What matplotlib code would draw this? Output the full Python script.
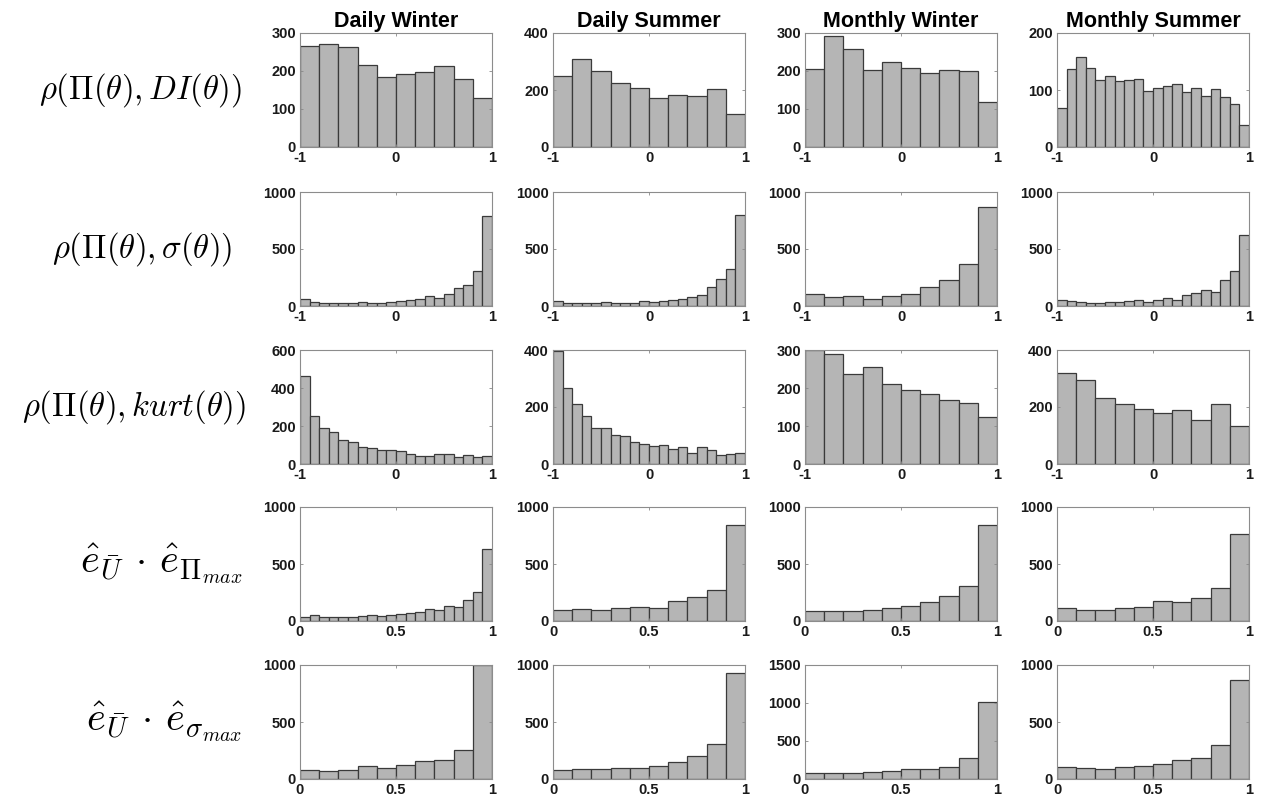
import matplotlib
matplotlib.use('Agg')
import matplotlib.pyplot as plt
import numpy as np

plt.rcParams['font.family'] = ['Liberation Sans', 'DejaVu Sans']
plt.rcParams['mathtext.fontset'] = 'cm'
plt.rcParams['axes.unicode_minus'] = False

col_titles = ['Daily Winter', 'Daily Summer', 'Monthly Winter', 'Monthly Summer']
row_labels = [r'$\rho(\Pi(\theta), DI(\theta))$',
              r'$\rho(\Pi(\theta), \sigma(\theta))$',
              r'$\rho(\Pi(\theta), kurt(\theta))$',
              r'$\hat{e}_{\bar{U}} \,\cdot\, \hat{e}_{\Pi_{max}}$',
              r'$\hat{e}_{\bar{U}} \,\cdot\, \hat{e}_{\sigma_{max}}$']

# bin counts, row by row (DW, DS, MW, MS)
# row 1: rho(Pi, DI), range -1..1
dw_di = [265, 271, 262, 216, 184, 191, 198, 212, 180, 130]
ds_di = [249, 308, 266, 226, 208, 171, 181, 179, 204, 115]
mw_di = [205, 292, 259, 203, 224, 209, 196, 202, 199, 119]
ms_di = [68, 136, 158, 138, 117, 124, 115, 118, 119, 99,
         104, 107, 110, 96, 104, 90, 101, 88, 75, 39]

# row 2: rho(Pi, sigma), range -1..1
dw_sig = [59, 35, 29, 29, 24, 29, 38, 29, 29, 38,
          44, 53, 65, 85, 74, 109, 156, 185, 309, 788]
ds_sig = [44, 24, 29, 24, 29, 35, 29, 29, 29, 41,
          38, 44, 53, 65, 76, 97, 165, 238, 321, 800]
mw_sig = [109, 79, 85, 62, 88, 109, 165, 226, 365, 865]
ms_sig = [56, 41, 35, 29, 29, 35, 32, 41, 50, 35,
          50, 68, 50, 94, 112, 144, 126, 226, 306, 626]

# row 3: rho(Pi, kurt), range -1..1
dw_kurt = [464, 252, 192, 168, 124, 115, 92, 86, 72, 72,
           69, 55, 42, 42, 51, 55, 37, 48, 37, 41]
ds_kurt = [398, 265, 209, 168, 128, 127, 102, 98, 76, 69,
           62, 66, 52, 58, 39, 60, 48, 31, 34, 39]
mw_kurt = [300, 289, 236, 255, 210, 195, 184, 168, 160, 125]
ms_kurt = [321, 294, 233, 212, 194, 179, 191, 155, 209, 135]

# row 4: e_U . e_Pimax, range 0..1
dw_epi = [35, 50, 35, 35, 35, 35, 41, 56, 44, 56,
          64, 73, 82, 105, 94, 129, 123, 181, 254, 629]
ds_epi = [94, 102, 94, 117, 126, 114, 175, 213, 275, 839]
mw_epi = [88, 91, 88, 96, 114, 129, 164, 222, 304, 845]
ms_epi = [117, 94, 96, 111, 123, 178, 167, 202, 292, 763]

# row 5: e_U . e_sigmax, range 0..1
dw_esig = [82, 74, 82, 115, 94, 121, 156, 171, 256, 1000]
ds_esig = [82, 88, 88, 94, 100, 115, 147, 200, 309, 929]
mw_esig = [79, 84, 84, 97, 110, 132, 132, 159, 273, 1019]
ms_esig = [106, 94, 88, 109, 118, 129, 171, 185, 294, 868]

counts = [[dw_di, ds_di, mw_di, ms_di],
          [dw_sig, ds_sig, mw_sig, ms_sig],
          [dw_kurt, ds_kurt, mw_kurt, ms_kurt],
          [dw_epi, ds_epi, mw_epi, ms_epi],
          [dw_esig, ds_esig, mw_esig, ms_esig]]

row_ranges = [(-1, 1), (-1, 1), (-1, 1), (0, 1), (0, 1)]
row_xticks = [[-1, 0, 1]] * 3 + [[0, 0.5, 1]] * 2
xtick_text = [['-1', '0', '1']] * 3 + [['0', '0.5', '1']] * 2

ymax = [[300, 400, 300, 200],
        [1000, 1000, 1000, 1000],
        [600, 400, 300, 400],
        [1000, 1000, 1000, 1000],
        [1000, 1000, 1500, 1000]]
ystep = [[100, 200, 100, 100],
         [500, 500, 500, 500],
         [200, 200, 100, 200],
         [500, 500, 500, 500],
         [500, 500, 500, 500]]

W, H = 1261, 802
fig = plt.figure(figsize=(W / 100, H / 100), dpi=100)

col_left = [300, 553, 805, 1057]
row_top = [33, 192, 350, 507, 665]
aw, ah = 192, 114
label_right = [242, 232, 246, 242, 242]
label_size = [23.5, 23.5, 23.5, 29, 29]

for r in range(5):
    for c in range(4):
        ax = fig.add_axes([col_left[c] / W, 1 - (row_top[r] + ah) / H, aw / W, ah / H])
        vals = np.array(counts[r][c], dtype=float)
        lo, hi = row_ranges[r]
        edges = np.linspace(lo, hi, len(vals) + 1)
        ax.bar(edges[:-1], vals, width=np.diff(edges), align='edge',
               color='#b5b5b5', edgecolor='#3a3a3a', linewidth=0.9)
        ax.set_xlim(lo, hi)
        ax.set_ylim(0, ymax[r][c])
        ax.set_xticks(row_xticks[r])
        ax.set_xticklabels(xtick_text[r])
        ax.set_yticks(np.arange(0, ymax[r][c] + 1, ystep[r][c]))
        ax.tick_params(direction='in', length=2.5, width=0.6, color='#888888',
                       top=True, right=True, labelsize=10.5, pad=3)
        for lab in ax.get_xticklabels() + ax.get_yticklabels():
            lab.set_fontweight('bold')
            lab.set_color('#1a1a1a')
        for sp in ax.spines.values():
            sp.set_color('#8c8c8c')
            sp.set_linewidth(0.8)
        if r == 0:
            ax.set_title(col_titles[c], fontsize=15.5, fontweight='bold', pad=4)
    fig.text(label_right[r] / W, 1 - (row_top[r] + ah / 2) / H, row_labels[r],
             ha='right', va='center', fontsize=label_size[r])

fig.savefig('out.png', dpi=100)
